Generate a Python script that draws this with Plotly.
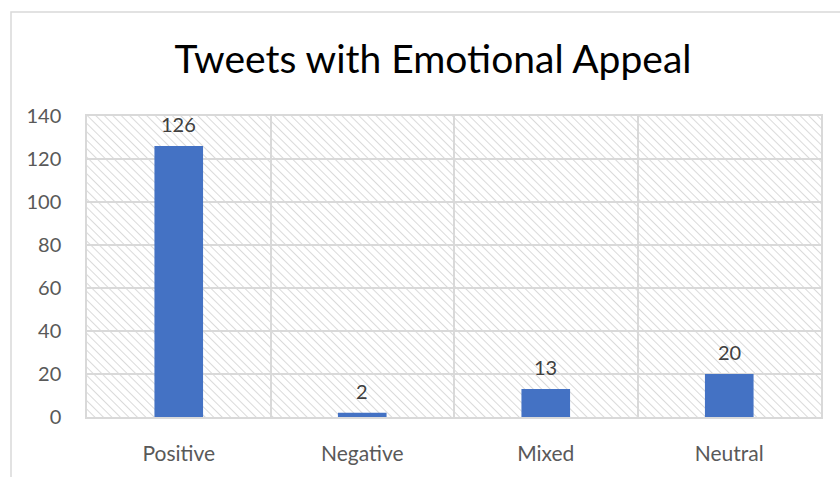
import base64
import plotly.graph_objects as go

# Tweet counts by emotional appeal
categories = ["Positive", "Negative", "Mixed", "Neutral"]
counts = [126, 2, 13, 20]
y_ticks = [0, 20, 40, 60, 80, 100, 120, 140]

W, H = 840, 477
M_L, M_R, M_T, M_B = 87, 19, 116, 57
PW, PH = W - M_L - M_R, H - M_T - M_B

BAR = "#4472C4"
GRID = "#d9d9d9"
TXT = "#595959"
FONT = "Lato, 'Open Sans', sans-serif"

# Diagonal hatch fill for the plot area
hatch_svg = f"""<svg xmlns='http://www.w3.org/2000/svg' width='{PW}' height='{PH}' viewBox='0 0 {PW} {PH}' preserveAspectRatio='none'>
<defs><pattern id='h' width='6' height='6' patternUnits='userSpaceOnUse' patternTransform='rotate(-45)'>
<line x1='0' y1='0' x2='0' y2='6' stroke='#cacaca' stroke-width='1.4'/></pattern></defs>
<rect width='100%' height='100%' fill='white'/><rect width='100%' height='100%' fill='url(#h)'/></svg>"""
hatch_uri = "data:image/svg+xml;base64," + base64.b64encode(hatch_svg.encode()).decode()

fig = go.Figure(
    go.Bar(
        x=categories,
        y=counts,
        marker=dict(color=BAR, line=dict(width=0)),
        width=0.265,
        hoverinfo="x+y",
    )
)

# Value labels above each bar
for c, v in zip(categories, counts):
    fig.add_annotation(
        x=c, y=v, text=str(v), showarrow=False, yanchor="bottom", yshift=8,
        font=dict(family=FONT, size=20, color="#404040"),
    )

# Outer chart frame
def px_x(px):
    return (px - M_L) / PW

def px_y(py):
    return (H - M_B - py) / PH

fig.add_shape(
    type="rect", xref="paper", yref="paper",
    x0=px_x(11), x1=px_x(880), y0=px_y(520), y1=px_y(11),
    line=dict(color=GRID, width=1.5), fillcolor="rgba(0,0,0,0)", layer="below",
)

fig.add_layout_image(
    source=hatch_uri, xref="paper", yref="paper", x=0, y=1,
    sizex=1, sizey=1, xanchor="left", yanchor="top",
    sizing="stretch", layer="below",
)

fig.update_layout(
    width=W, height=H,
    margin=dict(l=M_L, r=M_R, t=M_T, b=M_B),
    paper_bgcolor="white",
    plot_bgcolor="rgba(0,0,0,0)",
    showlegend=False,
    title=dict(
        text="Tweets with Emotional Appeal",
        x=433 / W, xanchor="center", xref="container",
        y=1 - 59 / H, yanchor="middle", yref="container",
        font=dict(family=FONT, size=39, color="#000000"),
    ),
    xaxis=dict(
        type="category",
        tickson="boundaries",
        showgrid=True, gridcolor=GRID, gridwidth=1.5,
        showline=True, linecolor=GRID, linewidth=1.5, mirror=True,
        ticks="", ticklabelstandoff=17,
        tickfont=dict(family=FONT, size=21, color=TXT),
        range=[-0.5, 3.5],
    ),
    yaxis=dict(
        range=[0, 140],
        tickvals=y_ticks,
        showgrid=True, gridcolor=GRID, gridwidth=1.5,
        showline=True, linecolor=GRID, linewidth=1.5, mirror=True,
        zeroline=False,
        ticks="", ticklabelstandoff=20,
        tickfont=dict(family=FONT, size=20, color=TXT),
    ),
)

fig.write_html("out.html")
